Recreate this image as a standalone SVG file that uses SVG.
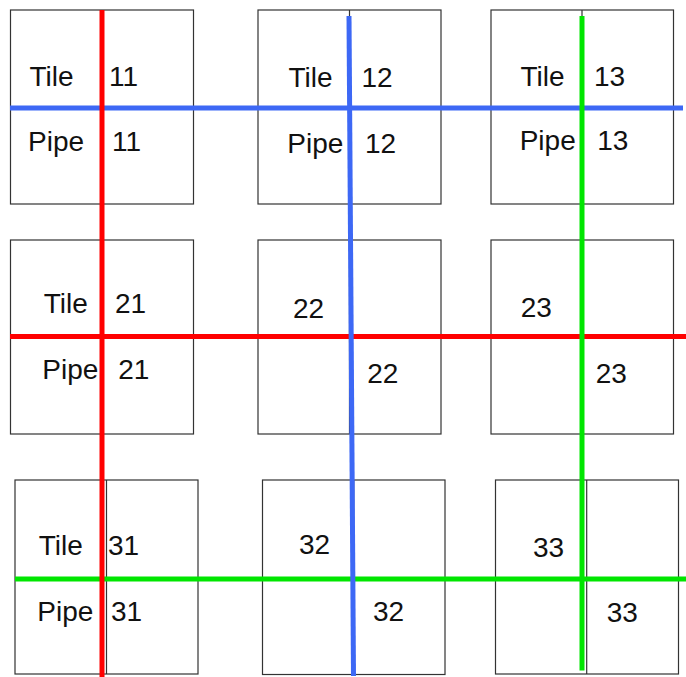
<svg xmlns="http://www.w3.org/2000/svg" width="686" height="677" viewBox="0 0 686 677">
<style>
.box{fill:#fff;stroke:#333;stroke-width:1.2}
.div{stroke:#333;stroke-width:1.2}
text{font-family:"Liberation Sans",Arial,sans-serif;font-size:28px;fill:#111}
.ln{fill:none;stroke-width:5}
.r{stroke:#ff0000}.b{stroke:#3d68f5}.g{stroke:#00e600}
</style>
<rect width="686" height="677" fill="#fff"/>
<g id="tile11"><rect class="box" x="10.5" y="10" width="183" height="194"/><line class="div" x1="102" y1="10" x2="102" y2="204"/>
<text x="29.5" y="86">Tile</text><text x="109" y="86">11</text><text x="28" y="151">Pipe</text><text x="112" y="151">11</text></g>
<g id="tile12"><rect class="box" x="258" y="10" width="183" height="194"/><line class="div" x1="349.5" y1="10" x2="349.5" y2="204"/>
<text x="288.5" y="87">Tile</text><text x="361.5" y="87">12</text><text x="287.3" y="153">Pipe</text><text x="365" y="153">12</text></g>
<g id="tile13"><rect class="box" x="491" y="10" width="182.5" height="194"/><line class="div" x1="582" y1="10" x2="582" y2="204"/>
<text x="520.5" y="86">Tile</text><text x="594" y="86">13</text><text x="519.7" y="150">Pipe</text><text x="597.3" y="150">13</text></g>
<g id="tile21"><rect class="box" x="10.5" y="240" width="183" height="194"/><line class="div" x1="102" y1="240" x2="102" y2="434"/>
<text x="43.7" y="313">Tile</text><text x="115" y="313">21</text><text x="42.3" y="379">Pipe</text><text x="118.3" y="379">21</text></g>
<g id="tile22"><rect class="box" x="258" y="240" width="183" height="194"/><line class="div" x1="349.5" y1="240" x2="349.5" y2="434"/>
<text x="293" y="317.5">22</text><text x="367.3" y="383">22</text></g>
<g id="tile23"><rect class="box" x="491" y="240" width="182.5" height="194"/><line class="div" x1="582" y1="240" x2="582" y2="434"/>
<text x="520.7" y="316.5">23</text><text x="595.7" y="382.5">23</text></g>
<g id="tile31"><rect class="box" x="15" y="480" width="183" height="194"/><line class="div" x1="106.5" y1="480" x2="106.5" y2="674"/>
<text x="38.7" y="555">Tile</text><text x="108" y="555">31</text><text x="37.3" y="621">Pipe</text><text x="111" y="621">31</text></g>
<g id="tile32"><rect class="box" x="262.5" y="480" width="182.5" height="194.5"/><line class="div" x1="353.7" y1="480" x2="353.7" y2="674.5"/>
<text x="299" y="554">32</text><text x="373" y="620.5">32</text></g>
<g id="tile33"><rect class="box" x="495.5" y="480" width="183" height="194"/><line class="div" x1="586.7" y1="480" x2="586.7" y2="674"/>
<text x="533" y="556.5">33</text><text x="606.7" y="621.5">33</text></g>
<g id="connectors">
<line class="ln b" x1="10" y1="108" x2="683" y2="108"/>
<line class="ln r" x1="10" y1="336.5" x2="686" y2="336.5"/>
<line class="ln g" x1="15" y1="579" x2="686" y2="579"/>
<line class="ln b" x1="349" y1="16" x2="353.5" y2="676"/>
<line class="ln g" x1="582" y1="16" x2="582" y2="670.5"/>
<line class="ln r" x1="102" y1="10" x2="102" y2="677"/>
</g>
</svg>
